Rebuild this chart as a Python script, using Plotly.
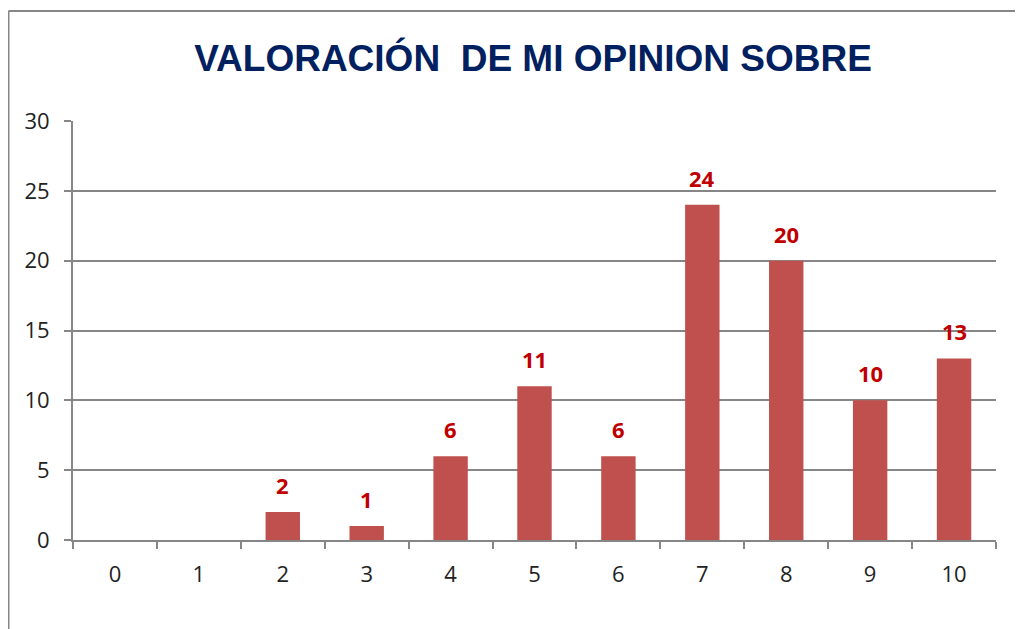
import plotly.graph_objects as go

categories = ["0", "1", "2", "3", "4", "5", "6", "7", "8", "9", "10"]
values = [0, 0, 2, 1, 6, 11, 6, 24, 20, 10, 13]
y_ticks = [0, 5, 10, 15, 20, 25, 30]
title_text = "VALORACIÓN  DE MI OPINION SOBRE"

# page body has an 8px margin, so the figure is 8px smaller and offset
W, H = 1015, 621
L, R, T, B = 65, 27, 113, 89
pw, ph = W - L - R, H - T - B

fig = go.Figure(go.Bar(
    x=categories, y=values,
    marker=dict(color="#C0504D", line=dict(width=0)),
))

for c, v in zip(categories, values):
    if v:
        fig.add_annotation(x=c, y=v, text="<b>%d</b>" % v, showarrow=False,
                           yanchor="bottom", yshift=10,
                           font=dict(family="Open Sans, DejaVu Sans", size=22, color="#C00000"))

fig.update_layout(
    width=W, height=H,
    margin=dict(l=L, r=R, t=T, b=B),
    paper_bgcolor="white", plot_bgcolor="white",
    bargap=0.59,
    showlegend=False,
    title=dict(text="<b>" + title_text + "</b>", x=525 / W, xanchor="center", y=1 - 50 / H, yanchor="middle",
               font=dict(family="Liberation Sans, Arial", size=37, color="#002060")),
    xaxis=dict(type="category", tickson="boundaries", ticks="outside", ticklen=7, tickwidth=2,
               tickcolor="#868686", showline=True, linecolor="#868686", linewidth=2,
               showgrid=False, tickfont=dict(family="Open Sans, DejaVu Sans", size=22, color="#222222"),
               ticklabelstandoff=14),
    yaxis=dict(range=[0, 30], tickvals=y_ticks, ticks="outside", ticklen=7, tickwidth=2,
               tickcolor="#868686", showline=True, linecolor="#868686", linewidth=2,
               showgrid=True, gridcolor="#868686", gridwidth=2, zeroline=False,
               tickfont=dict(family="Open Sans, DejaVu Sans", size=22, color="#222222"),
               ticklabelstandoff=10),
)

# outer chart border (left and top edges visible)
bx = (0.5 - L) / pw
by = (T + ph - 3) / ph
fig.add_shape(type="line", xref="paper", yref="paper", x0=bx, x1=1.2, y0=by, y1=by,
              line=dict(color="#868686", width=2))
fig.add_shape(type="line", xref="paper", yref="paper", x0=bx, x1=bx, y0=-0.4, y1=by,
              line=dict(color="#868686", width=2))

fig.write_html("out.html")
